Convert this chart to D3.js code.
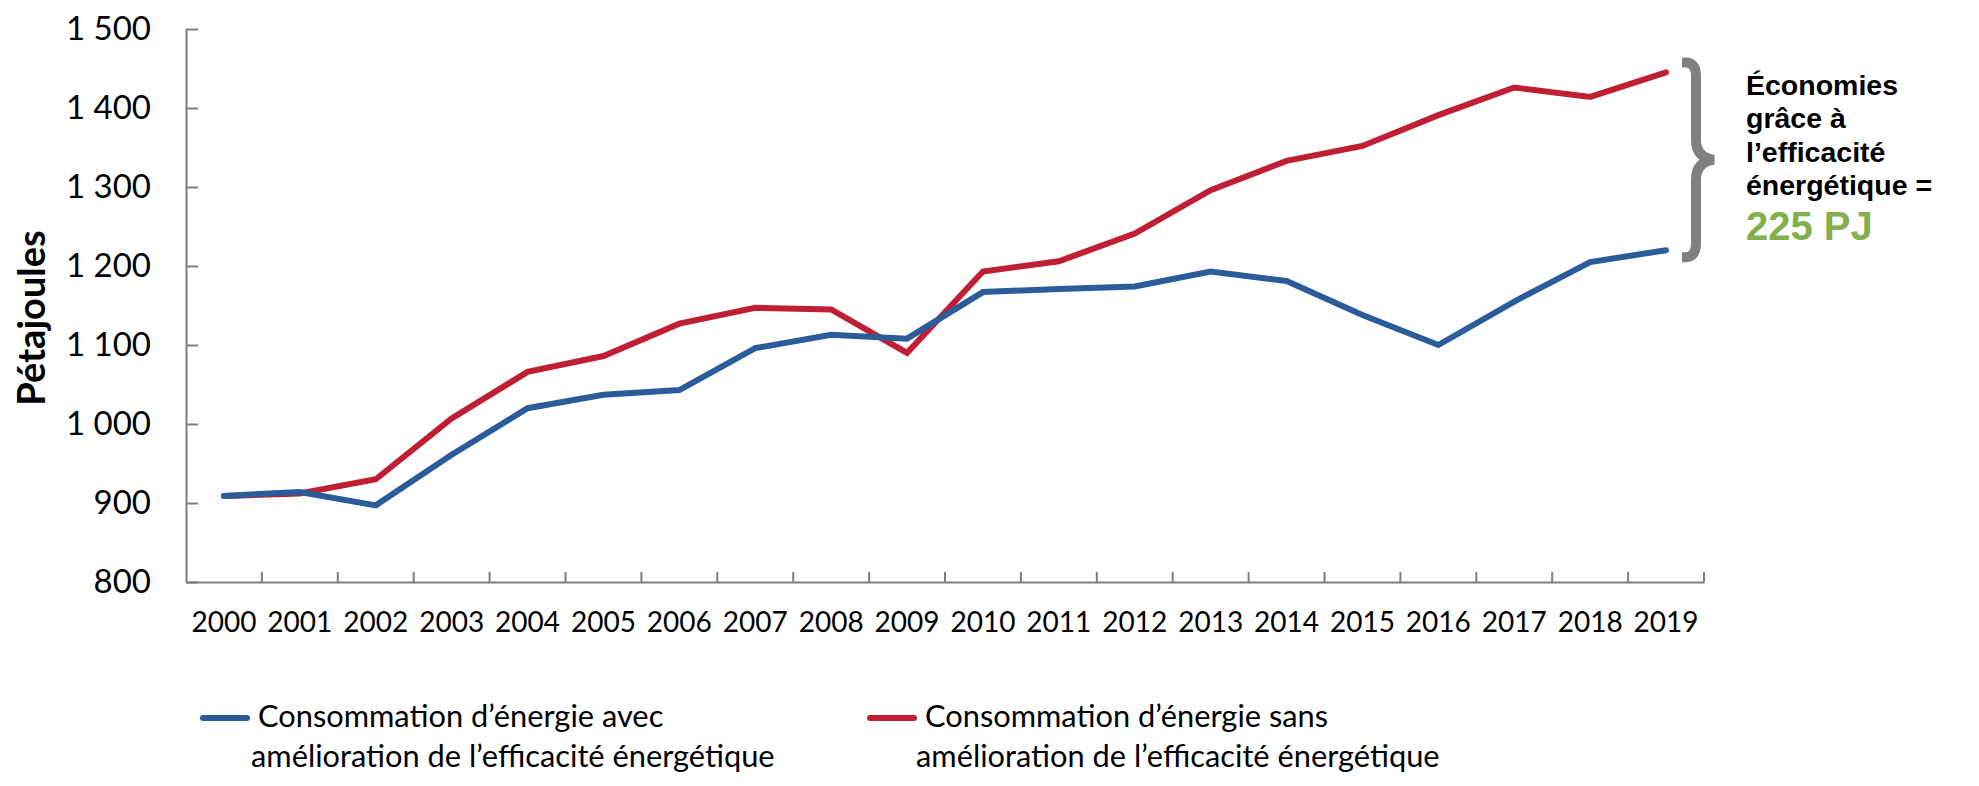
<!DOCTYPE html>
<html>
<head>
<meta charset="utf-8">
<script src="https://cdn.jsdelivr.net/npm/d3@7"></script>
<style>
  body { margin: 0; background: #fff; }
  .axis text { font-family: Lato, sans-serif; fill: #000; }
  .axis path, .axis line { stroke: #7f7f7f; stroke-width: 2px; }
</style>
</head>
<body>
<svg id="chart" width="1979" height="786"></svg>
<script>
var years = ["2000","2001","2002","2003","2004","2005","2006","2007","2008","2009",
             "2010","2011","2012","2013","2014","2015","2016","2017","2018","2019"];

// consommation avec amélioration de l'efficacité énergétique (PJ)
var withEfficiency = [909, 914, 897, 961, 1020, 1037, 1043, 1096, 1113, 1108,
                      1167, 1171, 1174, 1193, 1181, 1138, 1100, 1155, 1205, 1220];

// consommation sans amélioration (PJ)
var withoutEfficiency = [909, 912, 930, 1007, 1066, 1086, 1127, 1147, 1145, 1090,
                         1193, 1206, 1241, 1296, 1333, 1352, 1391, 1426, 1414, 1445];

var yTicks = [800, 900, 1000, 1100, 1200, 1300, 1400, 1500];

var seriesNames = [
    ["Consommation d\u2019énergie avec", "amélioration de l\u2019efficacité énergétique"],
    ["Consommation d\u2019énergie sans", "amélioration de l\u2019efficacité énergétique"]
];
var seriesColors = ["#2b5c9a", "#c01f33"];

var noteLines = ["Économies", "grâce à", "l\u2019efficacité", "énergétique ="];
var noteValue = "225 PJ";

var svg = d3.select("#chart"),
    margin = {top: 29, left: 186, right: 275, bottom: 204},
    width = +svg.attr("width") - margin.left - margin.right,
    height = +svg.attr("height") - margin.top - margin.bottom;

var g = svg.append("g")
    .attr("transform", "translate(" + margin.left + "," + margin.top + ")");

var x = d3.scaleBand().domain(years).range([0, width]);
var y = d3.scaleLinear().domain([800, 1500]).range([height, 0]);

var fr = d3.formatLocale({decimal: ",", thousands: "\u00a0", grouping: [3], currency: ["", " $"]});
var fmt = fr.format(",");

// axe y
g.append("g")
    .attr("class", "axis axis--y")
    .call(d3.axisLeft(y).tickValues(yTicks).tickFormat(fmt)
        .tickSizeInner(-12).tickSizeOuter(0).tickPadding(35))
    .selectAll("text")
    .style("font-size", "33px");

// axe x : étiquettes centrées, graduations aux limites des catégories
var xAxis = g.append("g")
    .attr("class", "axis axis--x")
    .attr("transform", "translate(0," + height + ")")
    .call(d3.axisBottom(x).tickSize(0).tickPadding(30));
xAxis.selectAll("text").style("font-size", "28px");
xAxis.selectAll(".tick line").remove();

var bounds = years.slice(1).map(function(d){ return x(d); });
bounds.push(width);
xAxis.selectAll(".bound")
    .data(bounds)
  .enter().append("line")
    .attr("class", "bound")
    .attr("x1", function(d){ return d; })
    .attr("x2", function(d){ return d; })
    .attr("y1", 0)
    .attr("y2", -10);

// titre de l'axe y
svg.append("text")
    .attr("transform", "translate(45,318) rotate(-90)")
    .attr("text-anchor", "middle")
    .style("font-family", "Lato, sans-serif")
    .style("font-weight", "bold")
    .style("font-size", "38px")
    .text("Pétajoules");

// lignes
var line = d3.line()
    .x(function(d, i) { return x(years[i]) + x.bandwidth() / 2; })
    .y(function(d) { return y(d); });

[withoutEfficiency, withEfficiency].forEach(function(s, k){
    g.append("path")
        .datum(s)
        .attr("fill", "none")
        .attr("stroke", k == 0 ? seriesColors[1] : seriesColors[0])
        .attr("stroke-width", 6)
        .attr("stroke-linecap", "round")
        .attr("d", line);
});

// accolade
var last = years.length - 1;
var yTop = y(withoutEfficiency[last]) - 10,
    yBot = y(withEfficiency[last]) + 7,
    yMid = (yTop + yBot) / 2,
    bx = width - 22;
var brace = d3.path();
brace.moveTo(bx, yTop);
brace.lineTo(bx + 4, yTop);
brace.quadraticCurveTo(bx + 14, yTop, bx + 14, yTop + 14);
brace.lineTo(bx + 14, yMid - 20);
brace.quadraticCurveTo(bx + 14, yMid - 2, bx + 32, yMid);
brace.quadraticCurveTo(bx + 14, yMid + 2, bx + 14, yMid + 20);
brace.lineTo(bx + 14, yBot - 14);
brace.quadraticCurveTo(bx + 14, yBot, bx + 4, yBot);
brace.lineTo(bx, yBot);
g.append("path")
    .attr("d", brace.toString())
    .attr("fill", "none")
    .attr("stroke", "#808080")
    .attr("stroke-width", 10);

// note
var note = svg.append("text")
    .style("font-family", "'Liberation Sans', Arial, sans-serif")
    .style("font-weight", "bold");
noteLines.forEach(function(t, i){
    note.append("tspan")
        .attr("x", 1746)
        .attr("y", 95 + i * 33.3)
        .style("font-size", "28.5px")
        .text(t);
});
note.append("tspan")
    .attr("x", 1746)
    .attr("y", 240)
    .style("font-size", "40px")
    .style("fill", "#82b04c")
    .text(noteValue);

// légende
var legendPos = [{x: 203, tx: 258, tx2: 251}, {x: 870, tx: 925, tx2: 916}];
seriesNames.forEach(function(n, i){
    var p = legendPos[i];
    svg.append("line")
        .attr("x1", p.x).attr("x2", p.x + 44)
        .attr("y1", 718).attr("y2", 718)
        .attr("stroke", seriesColors[i])
        .attr("stroke-width", 6)
        .attr("stroke-linecap", "round");
    var t = svg.append("text")
        .style("font-family", "Lato, sans-serif")
        .style("font-size", "30.8px");
    t.append("tspan").attr("x", p.tx).attr("y", 727).text(n[0]);
    t.append("tspan").attr("x", p.tx2).attr("y", 767).text(n[1]);
});
</script>
</body>
</html>
